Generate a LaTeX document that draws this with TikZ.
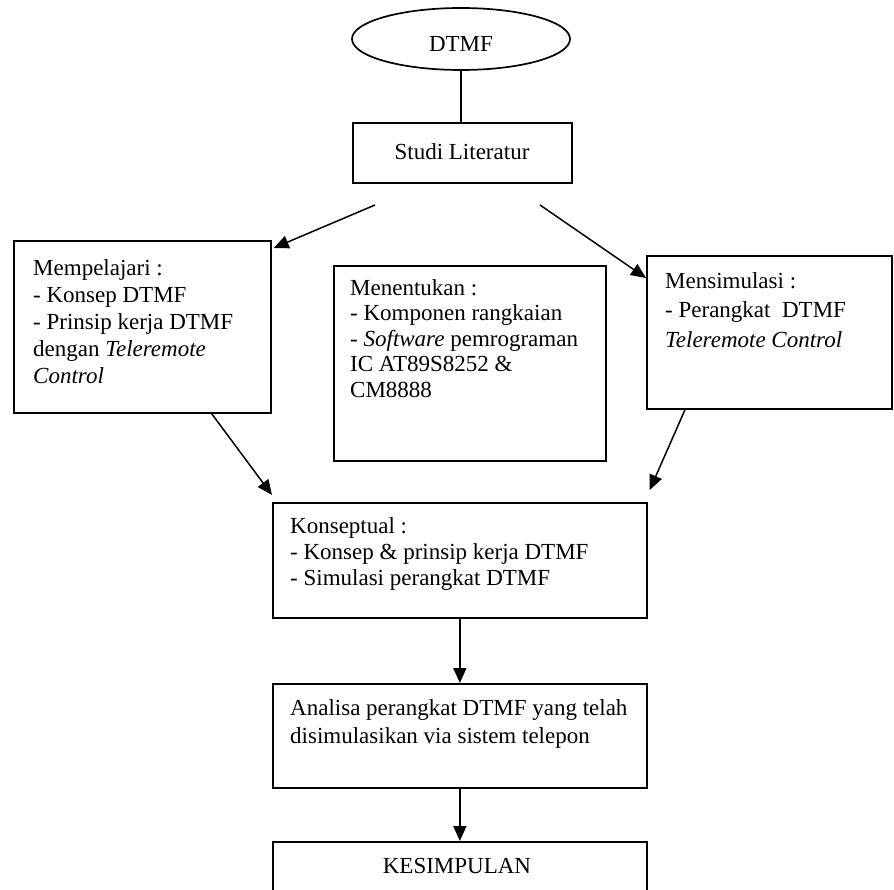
\documentclass[tikz,border=0pt]{standalone}
\usepackage{fontspec}
\setmainfont{Liberation Serif}
\usetikzlibrary{shapes.geometric,arrows.meta,calc}
\begin{document}
\begin{tikzpicture}[x=1pt,y=-1pt,
  box/.style={draw,line width=1.7pt,rectangle,inner sep=0pt,anchor=north west},
  txt/.style={inner sep=0pt,anchor=north west,align=left,font=\fontsize{23}{27}\selectfont},
  arr/.style={line width=1.5pt,-{Triangle[length=15pt,width=13pt]}},
  con/.style={line width=1.5pt}]
\useasboundingbox (0,0) rectangle (894,890);
\clip (0,0) rectangle (894,890);
\fill[white] (0,0) rectangle (894,890);
% nodes
\node[draw,line width=1.7pt,ellipse,minimum width=218pt,minimum height=62pt,inner sep=0pt] (dtmf) at (461,39) {};
\node[txt,anchor=base] (dtmft) at (461,52) {DTMF};
\node[box,minimum width=219pt,minimum height=60pt] (studi) at (352,122) {};
\node[txt,anchor=base] (studit) at (462,160) {Studi Literatur};
\node[box,minimum width=257pt,minimum height=172pt] (lft) at (13,240) {};
\node[txt] (lftt) at (33,259) {Mempelajari :\\- Konsep DTMF\\- Prinsip kerja DTMF\\dengan \textit{Teleremote}\\\textit{Control}};
\node[box,minimum width=272pt,minimum height=195pt] (mid) at (333,265) {};
\node[txt,font=\fontsize{23}{25.5}\selectfont] (midt) at (350,279) {Menentukan :\\- Komponen rangkaian\\- \textit{Software} pemrograman\\IC AT89S8252 \&\\CM8888};
\node[box,minimum width=245pt,minimum height=153pt] (rgt) at (646,255) {};
\node[txt,font=\fontsize{23}{29.5}\selectfont] (rgtt) at (665,272) {Mensimulasi :\\- Perangkat\ \ DTMF\\\textit{Teleremote Control}};
\node[box,minimum width=374pt,minimum height=115pt] (kon) at (272,502) {};
\node[txt,font=\fontsize{23}{26}\selectfont] (kont) at (290,517) {Konseptual :\\- Konsep \& prinsip kerja DTMF\\- Simulasi perangkat DTMF};
\node[box,minimum width=374pt,minimum height=104pt] (ana) at (272,683) {};
\node[txt,font=\fontsize{23}{28}\selectfont] (anat) at (290,699) {Analisa perangkat DTMF yang telah\\disimulasikan via sistem telepon};
\node[box,minimum width=374pt,minimum height=70pt] (kes) at (272,841) {};
\node[txt,anchor=base] (kest) at (457,873) {KESIMPULAN};
% free ends
\coordinate (s1) at (375,205);
\coordinate (s2) at (540,205);
% connectors
\draw[con] (dtmf.south) -- (dtmf.south |- studi.north);
\draw[arr] (s1) -- ($(lft.north east)+(2,8)$);
\draw[arr] (s2) -- ($(rgt.north west)+(0,23)$);
\draw[arr] ($(lft.south east)+(-60,0)$) -- ($(kon.north west)+(0,-7)$);
\draw[arr] ($(rgt.south west)+(39,0)$) -- ($(kon.north east)+(2,-12)$);
\draw[arr] (kon.south) -- (ana.north);
\draw[arr] (ana.south) -- (kes.north);
\end{tikzpicture}
\end{document}
